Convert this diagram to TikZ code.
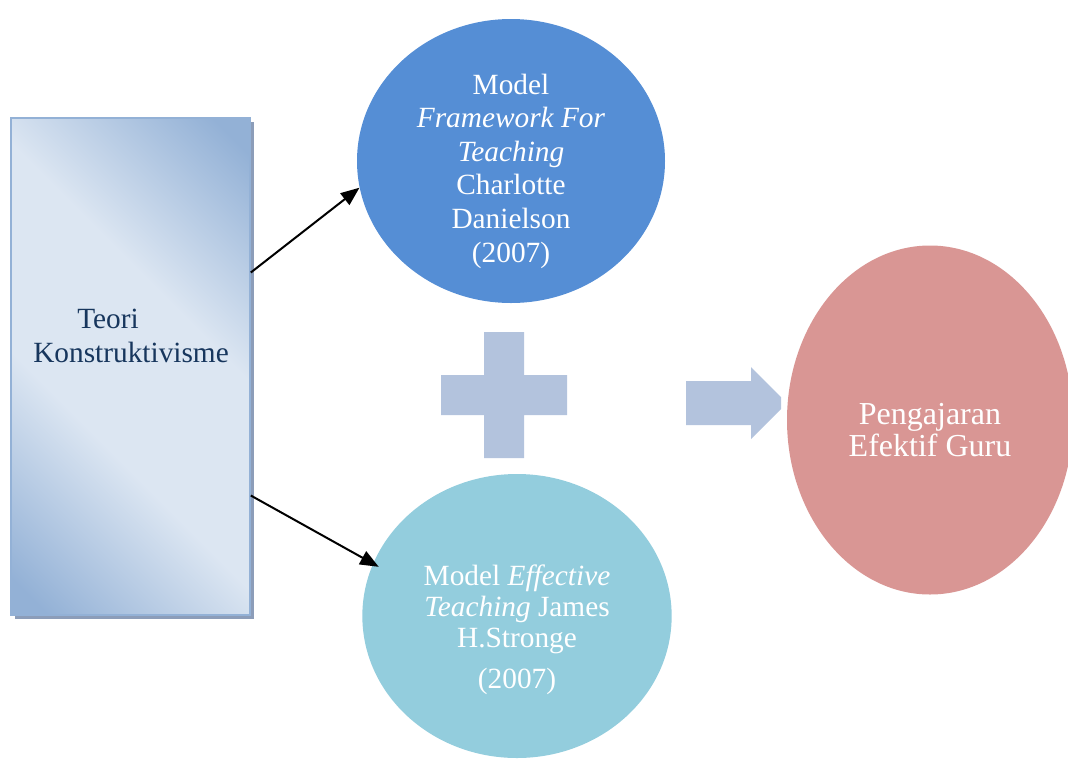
\documentclass[tikz,border=0pt]{standalone}
\usepackage{fontspec}
\setmainfont{Liberation Serif}
\usepackage{tikz}
\usetikzlibrary{shapes.geometric, arrows.meta, shadows}
\definecolor{topblue}{HTML}{558ED5}
\definecolor{botblue}{HTML}{93CDDD}
\definecolor{rose}{HTML}{D99694}
\definecolor{steel}{HTML}{B3C3DD}
\definecolor{boxdark}{HTML}{93B1D6}
\definecolor{boxlight}{HTML}{DCE6F2}
\definecolor{boxshadow}{HTML}{8C9DB9}
\definecolor{navy}{HTML}{17365D}
\pgfdeclarehorizontalshading{boxgrad}{100bp}{color(0bp)=(boxdark); color(18bp)=(boxdark); color(40bp)=(boxlight); color(60bp)=(boxlight); color(82bp)=(boxdark); color(100bp)=(boxdark)}
\newcommand\fs{\fontsize{22}{25.2}\selectfont}

\begin{document}
\begin{tikzpicture}[x=0.75pt, y=-0.75pt, oval/.style={ellipse, inner sep=0pt}, lbl/.style={inner sep=0pt, align=center, text=white}, link/.style={-{Triangle[length=14pt,width=11pt]}, line width=1.5pt}]
    \useasboundingbox (0,0) rectangle (1068,758);

    %Teori
    \node at (130.5,366.5) [rectangle, minimum width=179.25pt, minimum height=372.75pt, draw=boxdark, line width=1.2pt, shading=boxgrad, shading angle=45, drop shadow={shadow xshift=3pt, shadow yshift=-3pt, fill=boxshadow, opacity=1}] (teori) {};
    \node at (33,309) [anchor=north west, inner sep=0pt, align=left, text=navy, font=\fs] (tlbl) {\hspace*{33pt}Teori\\Konstruktivisme};

    %Models
    \node at (511,161) [oval, fill=topblue, minimum width=231pt, minimum height=213pt] (fft) {};
    \node at (511,171) [lbl, font=\fs] (fftlbl) {Model\\\textit{Framework For}\\\textit{Teaching}\\Charlotte\\Danielson\\(2007)};
    \node at (517,616) [oval, fill=botblue, minimum width=232pt, minimum height=213pt] (etm) {};
    \node at (517,630) [lbl, font=\fontsize{22}{23}\selectfont] (etmlbl) {Model \textit{Effective}\\\textit{Teaching} James\\H.Stronge\\[8pt](2007)};

    \draw[link] (teori.38) -- (fft.190);
    \draw[link, shorten >=-5pt] (teori.-47) -- (etm.160);

    %Plus
    \fill[steel] (484,332) -- (524,332) -- (524,375) -- (567,375) -- (567,415) -- (524,415) -- (524,458) -- (484,458) -- (484,415) -- (441,415) -- (441,375) -- (484,375) -- cycle;

    %Arrow
    \fill[steel] (686,381) -- (751,381) -- (751,367) -- (781,397) -- (781,409) -- (751,439) -- (751,425) -- (686,425) -- cycle;

    %Result
    \node at (930,420) [oval, fill=rose, minimum width=214.5pt, minimum height=261.75pt] (peg) {};
    \node at (930,430) [lbl, font=\fontsize{24}{24}\selectfont] (peglbl) {Pengajaran\\Efektif Guru};

\end{tikzpicture}
\end{document}
